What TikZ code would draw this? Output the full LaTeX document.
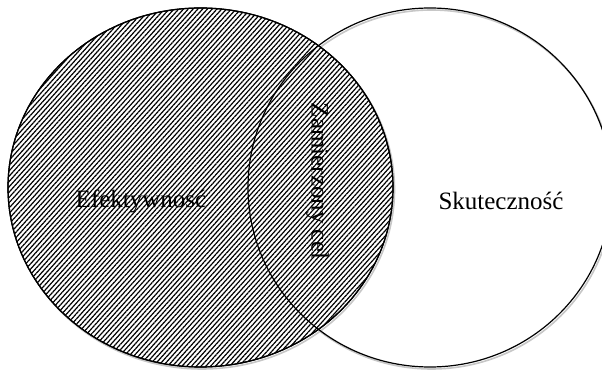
\documentclass[tikz,border=0pt]{standalone}
\usepackage{fontspec}
\setmainfont{Liberation Serif}
\usetikzlibrary{patterns.meta,shapes.geometric}
\tikzset{
  setshape/.style={ellipse, inner sep=0pt, line width=1.2pt, draw=black},
  shadowshape/.style={ellipse, inner sep=0pt, line width=1.6pt, draw=black!22},
  hatched/.style={pattern={Lines[angle=48,distance=3.55pt,line width=1.2pt]}},
  lbl/.style={font=\fontsize{25}{28}\selectfont, inner sep=0pt}
}
\begin{document}
\begin{tikzpicture}[x=1pt,y=1pt]
\useasboundingbox (0,0) rectangle (602,372);
\clip (0,0) rectangle (602,372);
% shadows
\node[shadowshape, minimum width=385pt, minimum height=359pt] (lsh) at (202,182.5) {};
\node[shadowshape, minimum width=364pt, minimum height=359pt] (rsh) at (431.5,182.5) {};
% left set (hatched)
\node[setshape, fill=white, minimum width=385pt, minimum height=359pt] (lw) at (200.5,184.5) {};
\node[setshape, hatched, minimum width=385pt, minimum height=359pt] (left) at (200.5,184.5) {};
% right set
\node[setshape, minimum width=364pt, minimum height=359pt] (right) at (430,184.5) {};
% labels
\node[lbl] (eff) at (141,171) {Efektywność};
\node[lbl] (sku) at (501,171) {Skuteczność};
\node[lbl, rotate=-90] (cel) at (317.5,191) {Zamierzony cel};
\end{tikzpicture}
\end{document}
